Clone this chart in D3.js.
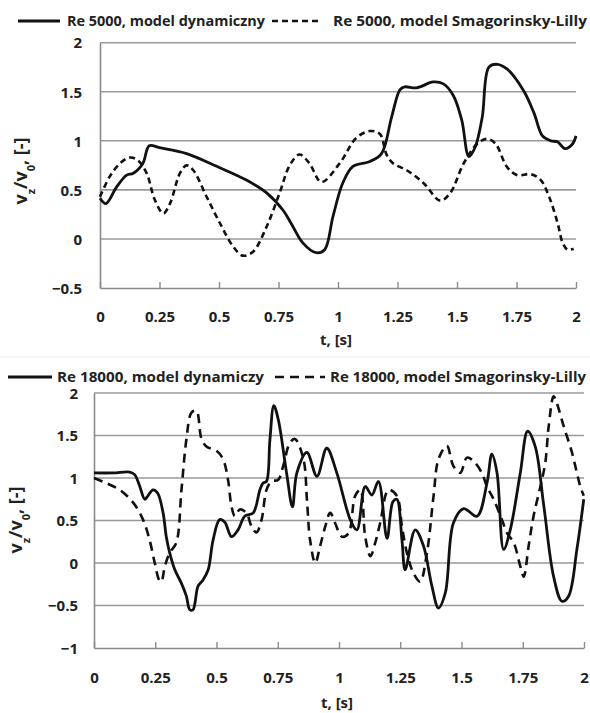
<!DOCTYPE html>
<html>
<head>
<meta charset="utf-8">
<script src="https://cdn.jsdelivr.net/npm/d3@7"></script>
<style>
  body { margin: 0; background: #fff; }
  text { font-family: 'Open Sans', sans-serif; font-weight: 700; fill: #222; }
</style>
</head>
<body>
<div class="chart-container"></div>
<script>
// t [s], vz/v0 [-]  (Re 5000)
const re5000Dyn = [[0,0.415],[0.025,0.36],[0.07,0.53],[0.112,0.65],[0.14,0.67],[0.18,0.77],[0.207,0.95],[0.25,0.93],[0.364,0.87],[0.49,0.74],[0.615,0.60],[0.70,0.47],[0.77,0.29],[0.805,0.15],[0.852,-0.04],[0.908,-0.14],[0.944,-0.11],[0.979,0.23],[1.02,0.57],[1.063,0.74],[1.134,0.79],[1.183,0.87],[1.225,1.24],[1.26,1.52],[1.28,1.55],[1.33,1.54],[1.40,1.60],[1.443,1.58],[1.485,1.46],[1.52,1.21],[1.55,0.84],[1.577,0.94],[1.606,1.24],[1.634,1.75],[1.669,1.78],[1.711,1.73],[1.78,1.51],[1.824,1.28],[1.859,1.05],[1.894,1.0],[1.922,0.99],[1.954,0.92],[1.986,0.97],[2.0,1.05]];
const re5000Smag = [[0,0.43],[0.042,0.64],[0.084,0.77],[0.126,0.83],[0.16,0.80],[0.196,0.67],[0.23,0.40],[0.266,0.26],[0.294,0.36],[0.336,0.67],[0.364,0.75],[0.392,0.70],[0.448,0.43],[0.504,0.16],[0.56,-0.08],[0.60,-0.17],[0.643,-0.13],[0.70,0.125],[0.755,0.47],[0.797,0.75],[0.838,0.86],[0.88,0.77],[0.93,0.58],[1.007,0.77],[1.077,1.03],[1.134,1.10],[1.176,1.07],[1.204,0.86],[1.232,0.77],[1.289,0.70],[1.359,0.57],[1.43,0.39],[1.472,0.47],[1.528,0.77],[1.585,0.97],[1.627,1.02],[1.662,0.97],[1.711,0.73],[1.754,0.65],[1.81,0.66],[1.852,0.60],[1.887,0.43],[1.923,0.16],[1.944,-0.04],[1.965,-0.11],[1.99,-0.1]];

// Re 18000
const re18000Dyn = [[0,1.06],[0.078,1.06],[0.146,1.07],[0.166,1.04],[0.187,0.90],[0.207,0.75],[0.22,0.79],[0.241,0.86],[0.26,0.82],[0.282,0.59],[0.295,0.31],[0.309,0.12],[0.33,-0.08],[0.357,-0.24],[0.377,-0.39],[0.391,-0.55],[0.404,-0.55],[0.425,-0.27],[0.445,-0.2],[0.466,-0.08],[0.486,0.27],[0.513,0.51],[0.534,0.48],[0.561,0.31],[0.588,0.39],[0.615,0.55],[0.65,0.59],[0.677,0.86],[0.69,0.94],[0.704,0.96],[0.718,1.45],[0.734,1.85],[0.752,1.69],[0.786,1.06],[0.81,0.66],[0.828,1.06],[0.869,1.30],[0.91,1.02],[0.95,1.35],[0.991,1.06],[1.046,0.51],[1.073,0.39],[1.107,0.90],[1.134,0.80],[1.161,0.96],[1.196,0.29],[1.22,0.72],[1.236,0.75],[1.257,0.27],[1.27,-0.08],[1.311,0.39],[1.345,0.20],[1.379,-0.27],[1.406,-0.53],[1.434,-0.35],[1.467,0.47],[1.509,0.64],[1.563,0.55],[1.604,0.94],[1.624,1.28],[1.645,1.06],[1.672,0.16],[1.699,0.39],[1.74,1.06],[1.77,1.55],[1.801,1.37],[1.836,0.67],[1.876,-0.16],[1.91,-0.45],[1.937,-0.39],[1.971,0.16],[1.999,0.75]];
const re18000Smag = [[0,1.0],[0.05,0.94],[0.105,0.86],[0.16,0.71],[0.2,0.51],[0.227,0.27],[0.248,0.0],[0.266,-0.2],[0.275,-0.22],[0.289,-0.04],[0.309,0.12],[0.336,0.24],[0.357,0.86],[0.377,1.45],[0.398,1.77],[0.418,1.79],[0.438,1.47],[0.459,1.37],[0.5,1.32],[0.527,1.22],[0.547,0.98],[0.561,0.67],[0.575,0.55],[0.595,0.63],[0.622,0.59],[0.643,0.43],[0.663,0.36],[0.684,0.51],[0.704,0.86],[0.724,0.96],[0.752,0.98],[0.772,1.14],[0.799,1.41],[0.82,1.46],[0.855,1.22],[0.869,0.75],[0.882,0.27],[0.903,0.0],[0.923,0.2],[0.944,0.43],[0.964,0.59],[0.984,0.47],[1.012,0.31],[1.039,0.35],[1.066,0.79],[1.087,0.86],[1.107,0.31],[1.128,0.08],[1.148,0.24],[1.168,0.47],[1.202,0.86],[1.236,0.79],[1.257,0.43],[1.277,0.12],[1.304,-0.12],[1.331,-0.22],[1.359,0.12],[1.386,0.79],[1.406,1.22],[1.44,1.38],[1.467,1.14],[1.495,1.06],[1.522,1.24],[1.549,1.20],[1.583,1.06],[1.604,0.90],[1.631,0.75],[1.665,0.51],[1.686,0.35],[1.713,0.24],[1.74,-0.04],[1.754,-0.16],[1.774,0.2],[1.794,0.55],[1.822,0.90],[1.842,1.18],[1.856,1.61],[1.876,1.96],[1.889,1.88],[1.917,1.61],[1.951,1.30],[1.971,1.06],[1.985,0.90],[1.999,0.79]];

const xTicks = [0, 0.25, 0.5, 0.75, 1, 1.25, 1.5, 1.75, 2];
const yTicksTop = [-0.5, 0, 0.5, 1, 1.5, 2];
const yTicksBottom = [-1, -0.5, 0, 0.5, 1, 1.5, 2];
const legendTop = ['Re 5000, model dynamiczny', 'Re 5000, model Smagorinsky-Lilly'];
const legendBottom = ['Re 18000, model dynamiczy', 'Re 18000, model Smagorinsky-Lilly'];

const svg = d3.select('.chart-container').append('svg')
  .attr('width', 590).attr('height', 713);

// faint seam between the two pictures
svg.append('line').attr('x1', 0).attr('x2', 590).attr('y1', 357).attr('y2', 357)
  .attr('stroke', '#ececec').attr('stroke-width', 1);

function drawPanel(p){
  const x = d3.scaleLinear().domain([0, 2]).range([p.left, p.right]);
  const y = d3.scaleLinear().domain(d3.extent(p.yTicks)).range([p.bottom, p.top]);
  const g = svg.append('g');

  // gridlines
  g.selectAll('.grid').data(p.yTicks.slice(1)).enter().append('line')
    .attr('x1', p.left).attr('x2', p.right)
    .attr('y1', d => y(d)).attr('y2', d => y(d))
    .attr('stroke', '#9a9a9a').attr('stroke-width', 1.6);

  // axes
  const xAxis = d3.axisBottom(x).tickValues(xTicks).tickSizeInner(-6).tickSizeOuter(0).tickFormat(d3.format('~g'));
  const xg = g.append('g').attr('transform', `translate(0,${p.bottom})`).call(xAxis);
  xg.select('.domain').attr('stroke', '#8a8a8a').attr('stroke-width', 1.6);
  xg.selectAll('.tick line').attr('stroke', '#8a8a8a').attr('stroke-width', 1.4);
  xg.selectAll('.tick text').attr('y', p.xLabelDy).attr('dy', '0.35em')
    .style('font-family', "'Open Sans', sans-serif").style('font-weight', 700)
    .style('font-size', '15px').attr('fill', '#222');

  const yAxis = d3.axisLeft(y).tickValues(p.yTicks).tickSize(0).tickFormat(d3.format('~g'));
  const yg = g.append('g').attr('transform', `translate(${p.left},0)`).call(yAxis);
  yg.select('.domain').attr('stroke', '#8a8a8a').attr('stroke-width', 1.6);
  yg.selectAll('.tick text').attr('x', -p.yLabelDx).attr('dy', '0.35em')
    .style('font-family', "'Open Sans', sans-serif").style('font-weight', 700)
    .style('font-size', '15px').attr('fill', '#222');

  // x title
  g.append('text').attr('x', (p.left + p.right) / 2 - 2).attr('y', p.bottom + p.xTitleDy)
    .attr('text-anchor', 'middle').attr('dy', '0.35em').style('font-size', '15px').text('t, [s]');

  // y title  vz/v0, [-]
  const yt = g.append('text')
    .attr('transform', `translate(${p.yTitleX},${p.yTitleY}) rotate(-90)`)
    .attr('text-anchor', 'middle').style('font-size', '18px');
  yt.append('tspan').text('v');
  yt.append('tspan').text('z').attr('baseline-shift', 'sub').style('font-size', '11px');
  yt.append('tspan').text('/v');
  yt.append('tspan').text('0').attr('baseline-shift', 'sub').style('font-size', '11px');
  yt.append('tspan').text(', [-]');

  const line = d3.line().x(d => x(d[0])).y(d => y(d[1])).curve(d3.curveCatmullRom.alpha(0.5));
  g.append('path').datum(p.smag).attr('d', line)
    .attr('fill', 'none').attr('stroke', '#111').attr('stroke-width', 2.6)
    .attr('stroke-dasharray', p.dash);
  g.append('path').datum(p.dyn).attr('d', line)
    .attr('fill', 'none').attr('stroke', '#111').attr('stroke-width', 2.8);

  // legend
  const lp = p.legendPos;
  const lg = g.append('g').attr('transform', `translate(0,${p.legendY})`);
  lg.append('line').attr('x1', lp[0]).attr('x2', lp[1])
    .attr('stroke', '#111').attr('stroke-width', 2.8);
  lg.append('text').attr('x', lp[2]).attr('dy', '0.35em').style('font-size', '14px')
    .attr('textLength', lp[3]).attr('lengthAdjust', 'spacingAndGlyphs').text(p.legend[0]);
  lg.append('line').attr('x1', lp[4]).attr('x2', lp[5])
    .attr('stroke', '#111').attr('stroke-width', 2.6).attr('stroke-dasharray', p.dash);
  lg.append('text').attr('x', lp[6]).attr('dy', '0.35em').style('font-size', '14px')
    .attr('textLength', lp[7]).attr('lengthAdjust', 'spacingAndGlyphs').text(p.legend[1]);
}

drawPanel({
  left: 100, right: 576, top: 42.7, bottom: 288,
  yTicks: yTicksTop, dyn: re5000Dyn, smag: re5000Smag, dash: '6,4',
  xLabelDy: 29, yLabelDx: 18, xTitleDy: 52, yTitleX: 27, yTitleY: 171,
  legend: legendTop, legendY: 21, legendPos: [18, 60, 67, 198, 272, 322, 333, 254]
});

drawPanel({
  left: 94, right: 584, top: 393, bottom: 648,
  yTicks: yTicksBottom, dyn: re18000Dyn, smag: re18000Smag, dash: '9,6',
  xLabelDy: 30, yLabelDx: 16, xTitleDy: 55, yTitleX: 22, yTitleY: 520,
  legend: legendBottom, legendY: 377, legendPos: [8, 52, 57, 207, 275, 325, 330, 256]
});
</script>
</body>
</html>
